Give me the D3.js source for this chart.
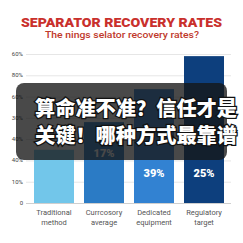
<!DOCTYPE html>
<html>
<head>
<meta charset="utf-8">
<script src="https://cdn.jsdelivr.net/npm/d3@7"></script>
<style>
  html, body { margin: 0; padding: 0; background: #fff; }
  svg { display: block; }
</style>
</head>
<body>
<div id="chart"></div>
<script>
// chart values
var categories = ["Traditional method", "Currcosory average", "Dedicated equipment", "Regulatory target"];
var line1 = ["Traditional", "Currcosory", "Dedicated", "Regulatory"];
var line2 = ["method", "average", "equipment", "target"];
var values = [25, 38, 53.5, 69];
var bar_labels = ["", "17%", "39%", "25%"];
var label_at = [0, 23.5, 14, 14];
var bar_colors = ["#72c6ea", "#2b7bc5", "#3282d2", "#0d3f7d"];
var tick_values = [0, 10, 20, 30, 40, 50, 60, 70];
var tick_labels = ["0", "10%", "40%", "40%", "30%", "60%", "80%", "60%"];

var width = 243, height = 243;

var svg = d3.select("#chart").append("svg")
    .attr("width", width)
    .attr("height", height);

svg.append("rect").attr("width", width).attr("height", height).attr("fill", "#fff");

// title
svg.append("text")
    .attr("x", 21).attr("y", 26.5)
    .attr("textLength", 201).attr("lengthAdjust", "spacingAndGlyphs")
    .attr("font-family", "Roboto, 'Liberation Sans', sans-serif")
    .attr("font-weight", 900)
    .attr("font-size", "13.5px")
    .attr("fill", "#c9302c")
    .text("SEPARATOR RECOVERY RATES");

svg.append("text")
    .attr("x", 45).attr("y", 37.5)
    .attr("textLength", 154).attr("lengthAdjust", "spacingAndGlyphs")
    .attr("font-family", "Roboto, 'Liberation Sans', sans-serif")
    .attr("font-weight", 500)
    .attr("font-size", "9px")
    .attr("fill", "#c0392b")
    .text("The nings selator recovery rates?");

var y = d3.scaleLinear().domain([0, 70]).range([203, 54]);
var x = d3.scaleBand().domain(categories).range([29, 229]).paddingInner(0.2).paddingOuter(0.1);

// gridlines + y labels
var grid = svg.append("g");
grid.selectAll("line")
    .data(tick_values)
    .enter()
    .append("line")
        .attr("x1", 26).attr("x2", 231)
        .attr("y1", function(d){ return y(d) + 0.5; })
        .attr("y2", function(d){ return y(d) + 0.5; })
        .attr("stroke", function(d){ return d === 0 ? "#cfcfcf" : "#e6e6e6"; })
        .attr("stroke-width", 1);

grid.selectAll("text")
    .data(tick_values)
    .enter()
    .append("text")
        .attr("x", 23)
        .attr("y", function(d){ return y(d) + 2; })
        .attr("text-anchor", "end")
        .attr("font-family", "Roboto, 'Liberation Sans', sans-serif")
        .attr("font-size", "6px")
        .attr("fill", "#444")
        .text(function(d, i){ return tick_labels[i]; });

// bars
svg.selectAll(".bar")
    .data(values)
    .enter()
    .append("rect")
        .attr("class", "bar")
        .attr("x", function(d, i){ return x(categories[i]); })
        .attr("y", function(d){ return y(d); })
        .attr("width", x.bandwidth())
        .attr("height", function(d){ return y(0) - y(d); })
        .attr("fill", function(d, i){ return bar_colors[i]; });

// bar value labels
svg.selectAll(".bar-label")
    .data(values)
    .enter()
    .append("text")
        .attr("class", "bar-label")
        .attr("x", function(d, i){ return x(categories[i]) + x.bandwidth() / 2; })
        .attr("y", function(d, i){ return y(label_at[i]) + 4; })
        .attr("text-anchor", "middle")
        .attr("font-family", "Roboto, 'Liberation Sans', sans-serif")
        .attr("font-weight", 900)
        .attr("font-size", "11px")
        .attr("fill", "#fff")
        .text(function(d, i){ return bar_labels[i]; });

// category labels, two lines
var cat = svg.selectAll(".cat")
    .data(categories)
    .enter()
    .append("text")
        .attr("class", "cat")
        .attr("x", function(d){ return x(d) + x.bandwidth() / 2; })
        .attr("text-anchor", "middle")
        .attr("font-family", "Roboto, 'Liberation Sans', sans-serif")
        .attr("font-size", "7.5px")
        .attr("fill", "#555");
cat.append("tspan")
    .attr("x", function(d){ return x(d) + x.bandwidth() / 2; })
    .attr("y", 214.5)
    .text(function(d, i){ return line1[i]; });
cat.append("tspan")
    .attr("x", function(d){ return x(d) + x.bandwidth() / 2; })
    .attr("y", 224.5)
    .text(function(d, i){ return line2[i]; });

// caption overlay
svg.append("rect")
    .attr("x", 16).attr("y", 83)
    .attr("width", 211).attr("height", 77)
    .attr("rx", 8)
    .attr("fill", "rgba(22,22,22,0.78)");

var captions = ["算命准不准？信任才是", "关键！哪种方式最靠谱"];
svg.selectAll(".cap")
    .data(captions)
    .enter()
    .append("text")
        .attr("class", "cap")
        .attr("x", 35)
        .attr("y", function(d, i){ return 116 + i * 27; })
        .attr("textLength", 202).attr("lengthAdjust", "spacingAndGlyphs")
        .attr("font-family", "'Noto Sans CJK SC', sans-serif")
        .attr("font-weight", 900)
        .attr("font-size", "20px")
        .attr("fill", "#fff")
        .attr("stroke", "#111")
        .attr("stroke-width", 2.5)
        .attr("paint-order", "stroke")
        .text(function(d){ return d; });
</script>
</body>
</html>
